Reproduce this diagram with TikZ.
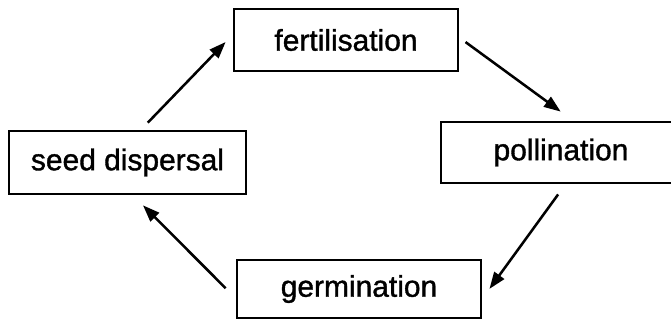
\documentclass[tikz,border=0pt]{standalone}
\usepackage{fontspec}
\setmainfont{Liberation Sans}
\usetikzlibrary{calc,arrows.meta}

\tikzset{stage/.style={draw,line width=2pt,inner sep=0pt,font=\fontsize{21.3}{25}\selectfont\addfontfeature{FakeBold=1.2}},
  cyc/.style={line width=1.8pt,-{Triangle[length=4.2mm,width=3mm]}}}

\begin{document}
\begin{tikzpicture}[scale=1]
\useasboundingbox (0,0) rectangle (16.775,8);
\clip (0,0) rectangle (16.775,8);
\node[stage,minimum width=5.6cm,minimum height=1.55cm] (fert) at (8.65,7.0) {fertilisation};
\node[stage,minimum width=6.0cm,minimum height=1.525cm] (poll) at (14.025,4.1875) {pollination};
\node[stage,minimum width=6.1cm,minimum height=1.45cm] (germ) at (8.975,0.775) {germination};
\node[stage,minimum width=5.925cm,minimum height=1.575cm] (seed) at (3.1875,3.9375) {seed dispersal};
\draw[cyc,shorten <=0.24cm,shorten >=0.25cm] ($(seed.north)+(0.34,0)$) -- ($(fert.west)+(0,0.13)$);
\draw[cyc,shorten <=0.19cm,shorten >=0.38cm] ($(fert.east)+(0,0.06)$) -- ($(poll.north)+(0.3,0)$);
\draw[cyc,shorten <=0.31cm,shorten >=0.3cm] ($(poll.south)+(0.11,0)$) -- ($(germ.east)+(0,-0.24)$);
\draw[cyc,shorten <=0.35cm,shorten >=0.35cm] ($(germ.west)+(0,-0.23)$) -- ($(seed.south)+(0.14,0)$);
\end{tikzpicture}
\end{document}
